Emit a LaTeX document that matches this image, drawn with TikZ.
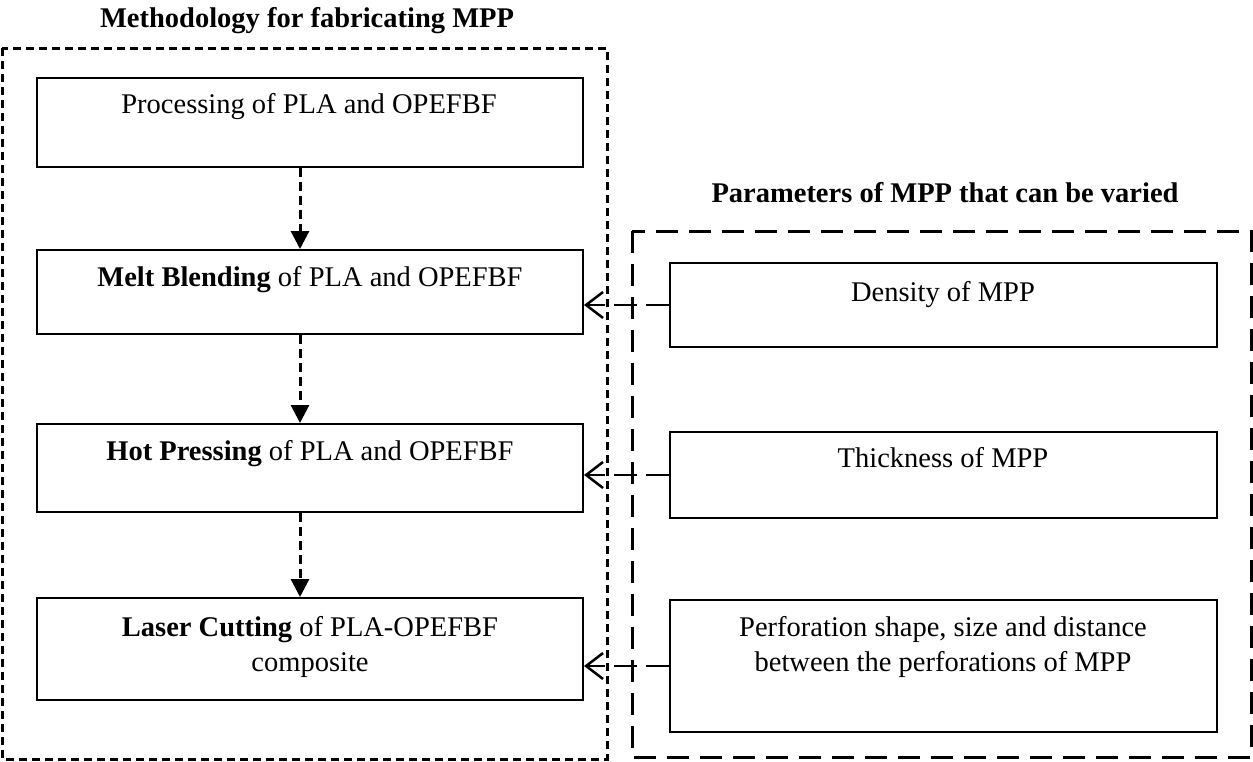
\documentclass[tikz,border=0pt]{standalone}
\usepackage{fontspec}
\setmainfont{Liberation Serif}
\usetikzlibrary{arrows.meta,calc}
\begin{document}
\begin{tikzpicture}[x=1pt,y=-1pt,
  stepbox/.style={draw,line width=2pt,rectangle,minimum width=546pt,inner sep=0pt},
  parbox/.style={draw,line width=2pt,rectangle,minimum width=547pt,inner sep=0pt},
  txt/.style={anchor=base,inner sep=0pt,align=center,font=\fontsize{28.5}{35}\selectfont},
  ttl/.style={anchor=base,inner sep=0pt,font=\fontsize{28.5}{35}\selectfont\bfseries},
  outerL/.style={draw,line width=3pt,dash pattern=on 8pt off 5pt},
  outerR/.style={draw,line width=3pt,dash pattern=on 22pt off 11pt},
  varrow/.style={line width=3pt,dash pattern=on 9pt off 5pt,-{Triangle[length=18pt,width=18pt]}},
  conn/.style={line width=2.5pt,dash pattern=on 23pt off 9pt,-{Straight Barb[length=17pt,width=26pt,line width=2.5pt]}}
]
\useasboundingbox (0,0) rectangle (1253,761);
% outer dashed groups
\draw[outerL] (2,48) rectangle (607,759);
\draw[outerR] (632,231) rectangle (1251,757);
\node[ttl] (tL) at (307,27) {Methodology for fabricating MPP};
\node[ttl] (tR) at (945,202) {Parameters of MPP that can be varied};
% left boxes
\node[stepbox,minimum height=89pt] (b1) at (310,122) {};
\node[stepbox,minimum height=84pt] (b2) at (310,292) {};
\node[stepbox,minimum height=88pt] (b3) at (310,468) {};
\node[stepbox,minimum height=102pt] (b4) at (310,649) {};
\node[txt] (t1) at (309,113) {Processing of PLA and OPEFBF};
\node[txt] (t2) at (310,286) {\textbf{Melt Blending} of PLA and OPEFBF};
\node[txt] (t3) at (310,460) {\textbf{Hot Pressing} of PLA and OPEFBF};
\node[txt] (t4) at (310,671) {\textbf{Laser Cutting} of PLA-OPEFBF\\composite};
% right boxes
\node[parbox,minimum height=84pt] (r1) at (943,305) {};
\node[parbox,minimum height=86pt] (r2) at (943,475) {};
\node[parbox,minimum height=132pt] (r3) at (943,666) {};
\node[txt] (s1) at (943,301) {Density of MPP};
\node[txt] (s2) at (943,467) {Thickness of MPP};
\node[txt] (s3) at (943,671) {Perforation shape, size and distance\\between the perforations of MPP};
% vertical arrows
\draw[varrow] ([xshift=-10pt]b1.south) -- ([xshift=-10pt]b2.north);
\draw[varrow] ([xshift=-10pt]b2.south) -- ([xshift=-10pt]b3.north);
\draw[varrow] ([xshift=-10pt]b3.south) -- ([xshift=-10pt]b4.north);
% connectors
\draw[conn] (r1.west) -- (b2.east |- r1.west);
\draw[conn] (r2.west) -- (b3.east |- r2.west);
\draw[conn] (r3.west) -- (b4.east |- r3.west);
\end{tikzpicture}
\end{document}
